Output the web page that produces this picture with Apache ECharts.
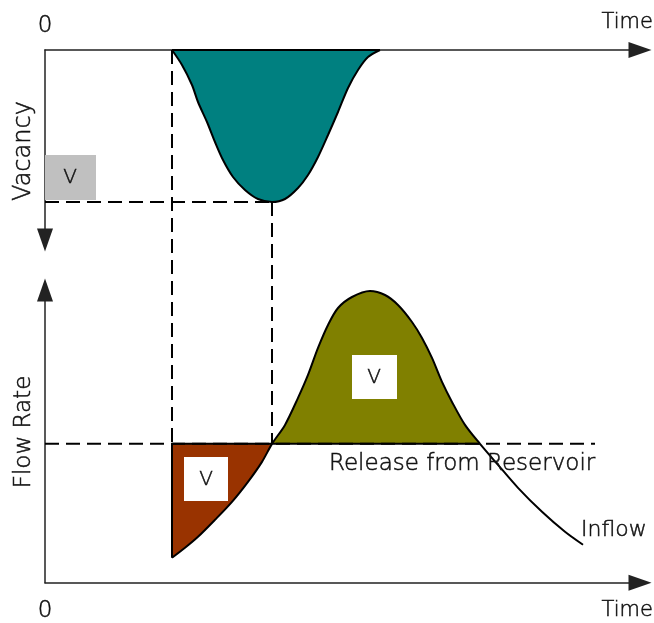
<!DOCTYPE html>
<html>
<head>
<meta charset="utf-8">
<script src="https://cdn.jsdelivr.net/npm/echarts@6/dist/echarts.min.js"></script>
<style>
html,body{margin:0;padding:0;background:#fff;}
#chart{width:654px;height:623px;}
</style>
</head>
<body>
<div id="chart"></div>
<script>
// Time axis units (both panels share the same time scale)
const timeMax = 59.5;
// Top panel: vacancy (grows downward)
const vacancyMax = 19;
const vacancyTime = [12.7, 13.7, 14.7, 15.3, 16.2, 17.0, 17.8, 18.8, 20.0, 21.3, 22.7, 24.0, 25.3, 26.3, 27.3, 28.3, 29.3, 30.3, 31.3, 32.3, 33.5];
const vacancyValue = [0, 1.5, 3.5, 5.2, 7.2, 9.2, 11.0, 12.7, 14.0, 14.9, 15.2, 14.9, 13.8, 12.5, 10.7, 8.5, 6.2, 3.8, 2.0, 0.7, 0];
// Bottom panel: flow rate
const flowMax = 29.3;
const inflowTime = [12.7, 14.0, 15.3, 17.0, 18.7, 20.3, 21.7, 22.7, 24.0, 25.3, 26.3, 27.3, 28.3, 29.3, 30.7, 32.5, 34.0, 35.3, 36.7, 37.7, 38.7, 39.7, 40.7, 42.0, 43.5, 45.3, 47.3, 49.7, 52.0, 53.8];
const inflowValue = [2.5, 3.5, 4.6, 6.3, 8.1, 10.1, 12.1, 13.9, 15.8, 18.5, 20.8, 23.5, 25.8, 27.5, 28.6, 29.2, 28.8, 27.8, 26.1, 24.5, 22.5, 20.1, 18.1, 15.8, 13.9, 11.8, 9.5, 7.1, 5.1, 3.8];
const releaseValue = 13.9;
const releaseEnd = 55.0;
const fillStart = 12.7;   // start of storage (inflow below release)
const crossUp = 22.7;     // inflow rises above release
const crossDown = 43.5;   // inflow falls below release
const peakVacancy = 15.2;

const textColor = '#111';
const fontFamily = '"DejaVu Sans", "Liberation Sans", sans-serif';
const font = (size) => '200 ' + size + 'px ' + fontFamily;
const txt = (text, size, align, extra) => Object.assign({
  text: text, fill: textColor, font: font(size), align: align, verticalAlign: 'middle',
  stroke: textColor, lineWidth: 0.5
}, extra || {});

function pairs(xs, ys) { return xs.map((x, i) => [x, ys[i]]); }
function between(xs, ys, a, b) {
  return pairs(xs, ys).filter(p => p[0] >= a - 1e-9 && p[0] <= b + 1e-9);
}

const dash = [14, 7];
const smooth = 0.3;
const axisLine = (symbols) => ({
  show: true,
  symbol: symbols,
  symbolSize: [16, 23],
  lineStyle: { color: '#222', width: 1.5 }
});

const chart = echarts.init(document.getElementById('chart'), null, { renderer: 'canvas' });

// vacancy value at the release level, used to extend the guides down (extrapolated on the axis scale)
const connectVacancy = 39.4;

const labelStyle = {
  color: textColor, fontSize: 23, fontWeight: 200, fontFamily: fontFamily, showMaxLabel: false,
  textBorderColor: textColor, textBorderWidth: 0.5
};

const option = {
  backgroundColor: '#ffffff',
  animation: false,
  textStyle: { fontFamily: fontFamily },
  grid: [
    { left: 45, top: 50, width: 595, height: 190 },
    { left: 45, top: 290, width: 595, height: 293 }
  ],
  xAxis: [
    {
      gridIndex: 0, type: 'value', min: 0, max: timeMax, interval: 10, position: 'top',
      axisLine: axisLine(['none', 'triangle']), axisTick: { show: false }, splitLine: { show: false },
      axisLabel: Object.assign({ formatter: v => v === 0 ? '0' : '', margin: 12 }, labelStyle)
    },
    {
      gridIndex: 1, type: 'value', min: 0, max: timeMax, interval: 10, position: 'bottom',
      axisLine: axisLine(['none', 'triangle']), axisTick: { show: false }, splitLine: { show: false },
      axisLabel: Object.assign({ formatter: v => v === 0 ? '0' : '', margin: 17 }, labelStyle)
    }
  ],
  yAxis: [
    {
      gridIndex: 0, type: 'value', min: 0, max: vacancyMax, inverse: true,
      axisLine: axisLine(['triangle', 'none']), axisTick: { show: false }, splitLine: { show: false }, axisLabel: { show: false }
    },
    {
      gridIndex: 1, type: 'value', min: 0, max: flowMax,
      axisLine: axisLine(['none', 'triangle']), axisTick: { show: false }, splitLine: { show: false }, axisLabel: { show: false }
    }
  ],
  series: [
    // Top: vacancy curve
    {
      type: 'line', xAxisIndex: 0, yAxisIndex: 0, z: 2,
      data: pairs(vacancyTime, vacancyValue), smooth: smooth, symbol: 'none',
      lineStyle: { color: '#000', width: 2 },
      areaStyle: { color: '#008080', opacity: 1 }
    },
    {
      type: 'line', xAxisIndex: 0, yAxisIndex: 0, z: 3, symbol: 'none',
      data: [[vacancyTime[0], 0], [vacancyTime[vacancyTime.length - 1], 0]],
      lineStyle: { color: '#000', width: 2 }
    },
    // Dashed guides (top grid, extended down to the release level)
    {
      type: 'line', xAxisIndex: 0, yAxisIndex: 0, z: 4, symbol: 'none', clip: false,
      data: [[fillStart, 0], [fillStart, connectVacancy]],
      lineStyle: { color: '#000', width: 2, type: dash }
    },
    {
      type: 'line', xAxisIndex: 0, yAxisIndex: 0, z: 4, symbol: 'none', clip: false,
      data: [[0, peakVacancy], [crossUp, peakVacancy]],
      lineStyle: { color: '#000', width: 2, type: dash }
    },
    {
      type: 'line', xAxisIndex: 0, yAxisIndex: 0, z: 4, symbol: 'none', clip: false,
      data: [[crossUp, peakVacancy], [crossUp, connectVacancy]],
      lineStyle: { color: '#000', width: 2, type: dash }
    },
    // Bottom: storage (red) and excess (olive) fills
    {
      type: 'line', xAxisIndex: 1, yAxisIndex: 1, z: 2, symbol: 'none', smooth: smooth,
      data: between(inflowTime, inflowValue, fillStart, crossUp),
      lineStyle: { width: 0, opacity: 0 },
      areaStyle: { color: '#993300', opacity: 1, origin: releaseValue }
    },
    {
      type: 'line', xAxisIndex: 1, yAxisIndex: 1, z: 2, symbol: 'none', smooth: smooth,
      data: between(inflowTime, inflowValue, crossUp, crossDown),
      lineStyle: { width: 0, opacity: 0 },
      areaStyle: { color: '#808000', opacity: 1, origin: releaseValue }
    },
    // Release line: dashed full length, solid across the filled span
    {
      type: 'line', xAxisIndex: 1, yAxisIndex: 1, z: 3, symbol: 'none',
      data: [[0, releaseValue], [releaseEnd, releaseValue]],
      lineStyle: { color: '#000', width: 2, type: dash }
    },
    {
      type: 'line', xAxisIndex: 1, yAxisIndex: 1, z: 4, symbol: 'none',
      data: [[fillStart, releaseValue], [crossDown, releaseValue]],
      lineStyle: { color: '#000', width: 2 }
    },
    {
      type: 'line', xAxisIndex: 1, yAxisIndex: 1, z: 4, symbol: 'none',
      data: [[fillStart, inflowValue[0]], [fillStart, releaseValue]],
      lineStyle: { color: '#000', width: 2 }
    },
    // Inflow curve
    {
      type: 'line', xAxisIndex: 1, yAxisIndex: 1, z: 5, symbol: 'none', smooth: smooth,
      data: pairs(inflowTime, inflowValue),
      lineStyle: { color: '#000', width: 2 }
    }
  ],
  graphic: [
    { type: 'rect', z: 100, shape: { x: 45, y: 155, width: 51, height: 45 }, style: { fill: '#c0c0c0' } },
    { type: 'text', z: 101, x: 70, y: 178, style: txt('V', 20, 'center') },
    { type: 'rect', z: 100, shape: { x: 184, y: 457, width: 44, height: 44 }, style: { fill: '#ffffff' } },
    { type: 'text', z: 101, x: 206, y: 480, style: txt('V', 20, 'center') },
    { type: 'rect', z: 100, shape: { x: 352, y: 355, width: 45, height: 44 }, style: { fill: '#ffffff' } },
    { type: 'text', z: 101, x: 374, y: 378, style: txt('V', 20, 'center') },
    { type: 'text', z: 101, x: 653, y: 23, style: txt('Time', 21, 'right') },
    { type: 'text', z: 101, x: 653, y: 611, style: txt('Time', 21, 'right') },
    { type: 'text', z: 101, x: 24, y: 151, rotation: Math.PI / 2, style: txt('Vacancy', 24, 'center') },
    { type: 'text', z: 101, x: 24, y: 432, rotation: Math.PI / 2, style: txt('Flow Rate', 23, 'center') },
    { type: 'text', z: 101, x: 329, y: 464, style: txt('Release from Reservoir', 23, 'left') },
    { type: 'text', z: 101, x: 581, y: 530, style: txt('Inflow', 22, 'left') }
  ]
};
chart.setOption(option);
</script>
</body>
</html>
